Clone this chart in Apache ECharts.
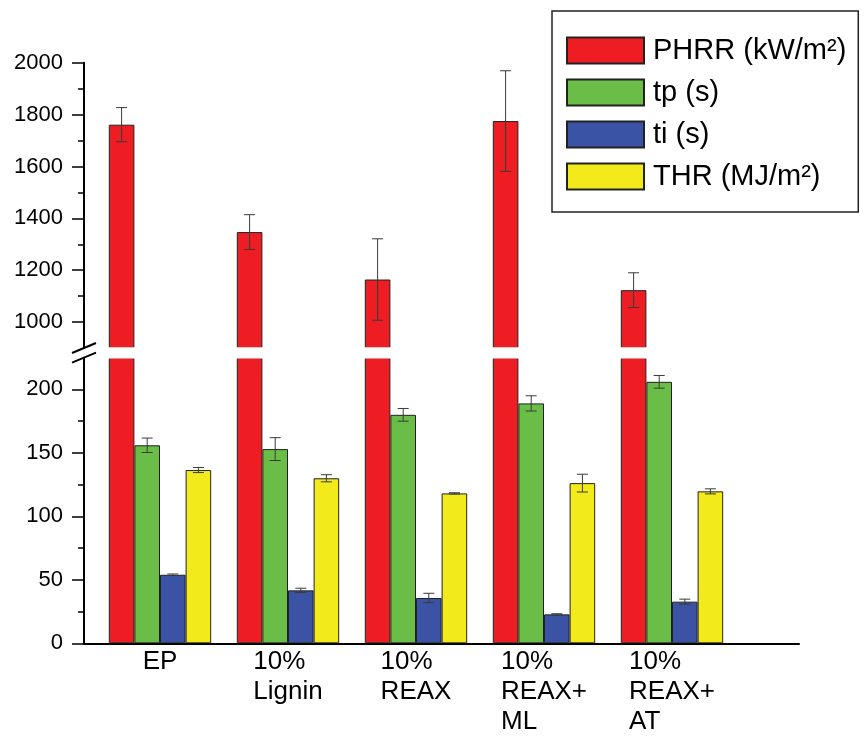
<!DOCTYPE html>
<html>
<head>
<meta charset="utf-8">
<script src="https://cdn.jsdelivr.net/npm/echarts@6/dist/echarts.min.js"></script>
<style>html,body{margin:0;padding:0;background:#fff}#c{width:868px;height:740px}</style>
</head>
<body>
<div id="c"></div>
<script>
const categories = ['EP', '10%\nLignin', '10%\nREAX', '10%\nREAX+\nML', '10%\nREAX+\nAT'];
const seriesNames = ['PHRR (kW/m²)', 'tp (s)', 'ti (s)', 'THR (MJ/m²)'];
const phrr = [1761, 1347, 1164, 1775, 1123];
const phrrErr = [66, 67, 157, 194, 67];
const tp = [156, 153, 180, 189, 206];
const tpErr = [5.7, 9, 5, 6, 5];
const ti = [54, 41.7, 35.7, 22.8, 32.8];
const tiErr = [0.6, 1.7, 3.7, 0.5, 2];
const thr = [136.5, 130, 118.1, 126.2, 119.7];
const thrErr = [2, 2.8, 0.5, 7, 2];
const upperMajor = [1000, 1200, 1400, 1600, 1800, 2000];
const upperMinor = [1100, 1300, 1500, 1700, 1900];
const lowerMajor = [0, 50, 100, 150, 200];
const lowerMinor = [25, 75, 125, 175];
const upperRange = [900, 2000];
const lowerRange = [0, 225];

const colors = ['#EE1D24', '#6ABD46', '#3A53A4', '#F2EA1A'];
const FONT = 'Liberation Sans, Arial, sans-serif';

function errData(vals, errs, slot) {
  return vals.map((v, i) => [i, v - errs[i], v + errs[i], slot]);
}
function renderErr(params, api) {
  const c = api.value(0), lo = api.value(1), hi = api.value(2), slot = api.value(3);
  const band = api.size([1, 0])[0];
  const bw = band * 0.2;
  const p1 = api.coord([c, hi]), p2 = api.coord([c, lo]);
  const x = p1[0] + (slot - 1.5) * bw;
  const hw = 5.5;
  const st = { stroke: '#3a3a3a', lineWidth: 1 };
  return { type: 'group', children: [
    { type: 'line', shape: { x1: x, y1: p1[1], x2: x, y2: p2[1] }, style: st },
    { type: 'line', shape: { x1: x - hw, y1: p1[1], x2: x + hw, y2: p1[1] }, style: st },
    { type: 'line', shape: { x1: x - hw, y1: p2[1], x2: x + hw, y2: p2[1] }, style: st }
  ]};
}

const axisLineStyle = { color: '#000', width: 2 };
function majorY(grid, range, ticks) {
  return {
    type: 'value', gridIndex: grid, position: 'left', min: range[0], max: range[1], offset: 12,
    axisLine: { show: true, lineStyle: axisLineStyle },
    axisTick: { show: true, length: 12, customValues: ticks, lineStyle: { color: '#000', width: 1.5 } },
    axisLabel: { customValues: ticks, margin: 21, fontSize: 22, color: '#000', fontFamily: FONT,
      formatter: v => String(v) },
    splitLine: { show: false }
  };
}
function minorY(grid, range, ticks) {
  return {
    type: 'value', gridIndex: grid, position: 'left', min: range[0], max: range[1], offset: 12,
    axisLine: { show: false },
    axisTick: { show: true, length: 6, customValues: ticks, lineStyle: { color: '#000', width: 1.5 } },
    axisLabel: { show: false },
    splitLine: { show: false }
  };
}

const barBase = {
  type: 'bar', barWidth: '20%', barGap: '0%', clip: true
};
const itemSt = c => ({ color: c, borderColor: '#222', borderWidth: 1 });

const chart = echarts.init(document.getElementById('c'), null, { renderer: 'canvas' });
const option = {
  animation: false,
  backgroundColor: '#fff',
  color: colors,
  grid: [
    { left: 96, right: 132, top: 62.7, height: 285.3 },
    { left: 96, right: 132, top: 357.7, bottom: 96.7 },
    { left: 84, right: 69, top: 357.7, bottom: 96.7 }
  ],
  xAxis: [
    { type: 'category', gridIndex: 0, data: categories, show: false },
    { type: 'category', gridIndex: 1, data: categories,
      axisLine: { show: false }, axisTick: { show: false },
      axisLabel: {
        interval: 0, margin: 4,
        formatter: v => v.split('\n').map(s => '{a|' + s + '}').join('\n'),
        rich: { a: { fontSize: 26, lineHeight: 30, color: '#000', fontFamily: FONT, align: 'left' } }
      } },
    { type: 'value', gridIndex: 2, min: 0, max: 1,
      axisLine: { show: true, onZero: false, lineStyle: axisLineStyle },
      axisTick: { show: false }, axisLabel: { show: false }, splitLine: { show: false } }
  ],
  yAxis: [
    majorY(0, upperRange, upperMajor),
    minorY(0, upperRange, upperMinor),
    majorY(1, lowerRange, lowerMajor),
    minorY(1, lowerRange, lowerMinor),
    { type: 'value', gridIndex: 2, show: false, min: 0, max: 1 }
  ],
  legend: {
    data: seriesNames,
    orient: 'vertical', left: 552, top: 11,
    padding: [25, 12, 21, 14],
    itemWidth: 77, itemHeight: 26, itemGap: 13,
    borderColor: '#222', borderWidth: 1.5, backgroundColor: '#fff',
    selectedMode: false, icon: 'rect',
    formatter: name => '{f|' + name + '}',
    textStyle: {
      rich: {
        f: { fontSize: 29, lineHeight: 26, color: '#000', fontFamily: FONT, padding: [0, 0, 0, 4] }
      }
    }
  },
  series: [
    Object.assign({}, barBase, { name: seriesNames[0], xAxisIndex: 0, yAxisIndex: 0, data: phrr, itemStyle: itemSt(colors[0]) }),
    Object.assign({}, barBase, { name: '_p1', xAxisIndex: 0, yAxisIndex: 0, data: ['-', '-', '-', '-', '-'] }),
    Object.assign({}, barBase, { name: '_p2', xAxisIndex: 0, yAxisIndex: 0, data: ['-', '-', '-', '-', '-'] }),
    Object.assign({}, barBase, { name: '_p3', xAxisIndex: 0, yAxisIndex: 0, data: ['-', '-', '-', '-', '-'] }),
    Object.assign({}, barBase, { name: seriesNames[0], xAxisIndex: 1, yAxisIndex: 2, data: phrr, itemStyle: itemSt(colors[0]) }),
    Object.assign({}, barBase, { name: seriesNames[1], xAxisIndex: 1, yAxisIndex: 2, data: tp, itemStyle: itemSt(colors[1]) }),
    Object.assign({}, barBase, { name: seriesNames[2], xAxisIndex: 1, yAxisIndex: 2, data: ti, itemStyle: itemSt(colors[2]) }),
    Object.assign({}, barBase, { name: seriesNames[3], xAxisIndex: 1, yAxisIndex: 2, data: thr, itemStyle: itemSt(colors[3]) }),
    { type: 'custom', name: '_e0', xAxisIndex: 0, yAxisIndex: 0, z: 5, renderItem: renderErr,
      encode: { x: 0, y: [1, 2] }, data: errData(phrr, phrrErr, 0) },
    { type: 'custom', name: '_e1', xAxisIndex: 1, yAxisIndex: 2, z: 5, renderItem: renderErr,
      encode: { x: 0, y: [1, 2] },
      data: errData(tp, tpErr, 1).concat(errData(ti, tiErr, 2), errData(thr, thrErr, 3)) }
  ]
};
chart.setOption(option);

// axis-break decoration, positioned from the axes
const ax = chart.convertToPixel({ xAxisIndex: 2 }, 0);
const axEnd = chart.convertToPixel({ xAxisIndex: 2 }, 1);
const yU = chart.convertToPixel({ yAxisIndex: 0 }, upperRange[0]);
const yL = chart.convertToPixel({ yAxisIndex: 2 }, lowerRange[1]);
const slash = (y) => ({ type: 'line', z: 100,
  shape: { x1: ax - 12, y1: y + 5, x2: ax + 12, y2: y - 5 },
  style: { stroke: '#000', lineWidth: 2 } });
const gapBand = { type: 'rect', z: 90,
  shape: { x: ax + 1.5, y: yU - 0.8, width: axEnd - ax, height: (yL - yU) + 1.6 },
  style: { fill: '#fff' } };
chart.setOption({ graphic: [gapBand, slash(yU), slash(yL)] });
</script>
</body>
</html>
